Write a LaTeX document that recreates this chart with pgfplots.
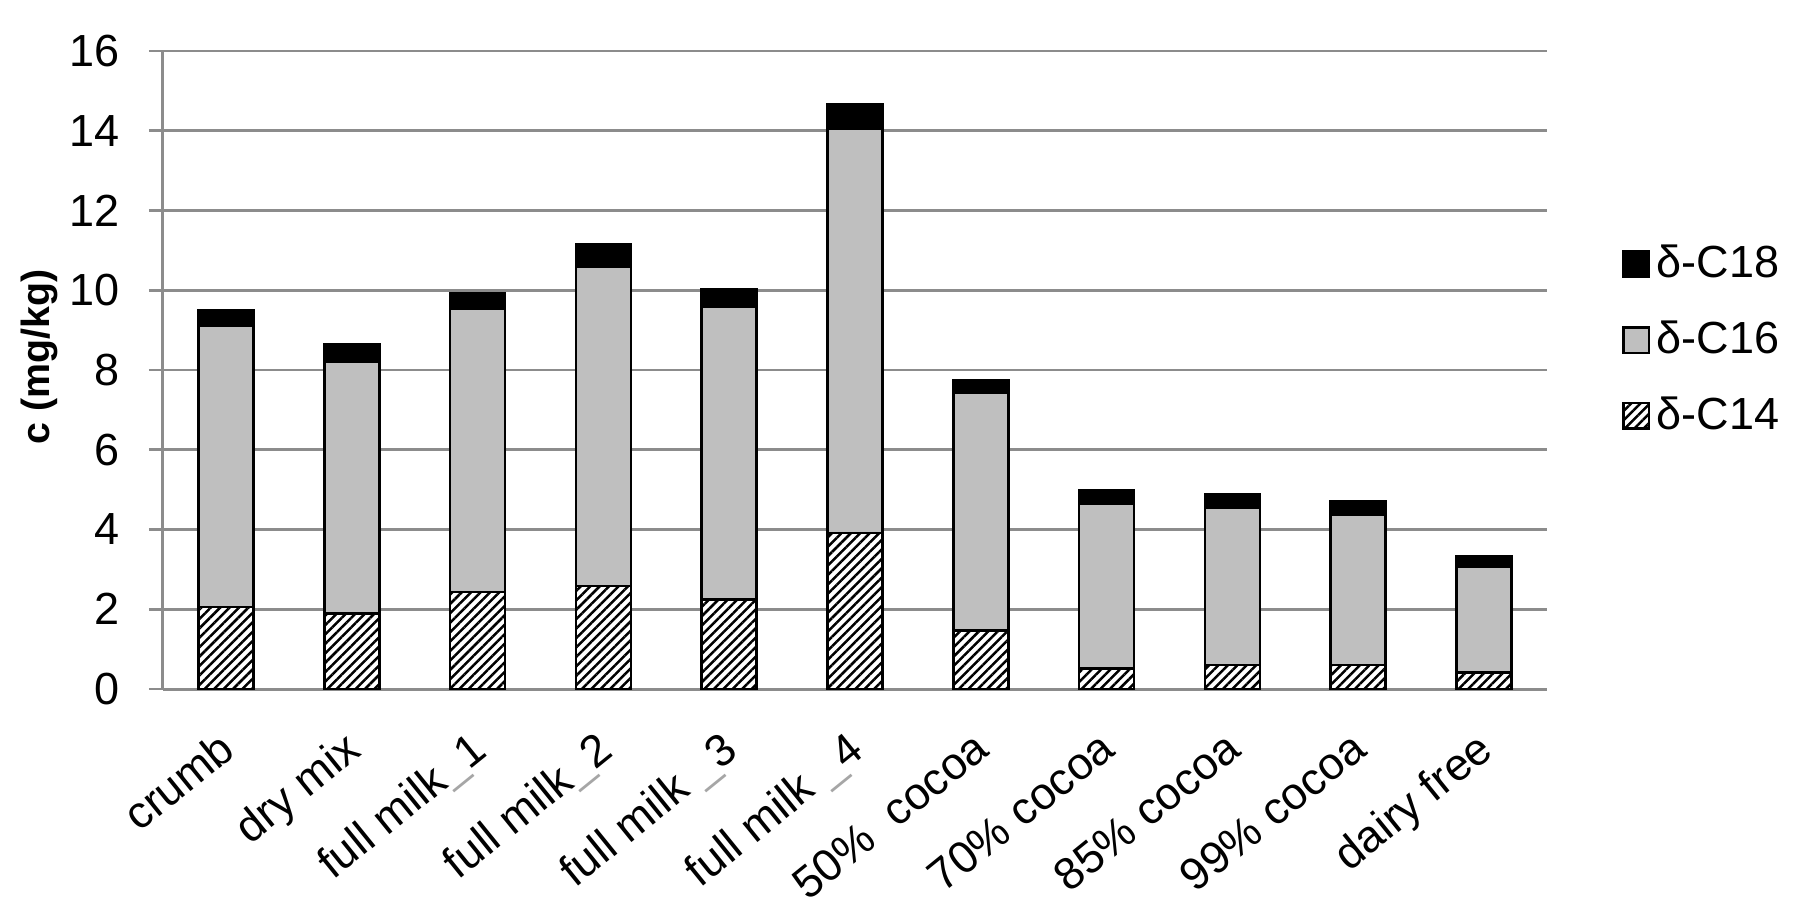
\documentclass[border=0pt]{standalone}
\usepackage{fontspec}
\setmainfont{Liberation Sans}
\usepackage{pgfplots}
\usepackage{pgfplotstable}
\pgfplotsset{compat=1.18}
\usetikzlibrary{patterns.meta}

\pgfplotstableread{
x  c14   c16    c18
0  2.06  7.04   0.40
1  1.89  6.33   0.42
2  2.43  7.10   0.39
3  2.58  8.00   0.57
4  2.24  7.36   0.42
5  3.91  10.15  0.61
6  1.46  5.97   0.32
7  0.51  4.14   0.33
8  0.60  3.96   0.32
9  0.60  3.77   0.34
10 0.41  2.66   0.25
}\datatable

\newcommand{\us}{\textcolor{black!35}{\_}}

\begin{document}
\begin{tikzpicture}
\begin{axis}[
  name=ax,
  scale only axis,
  width=415.2pt, height=191.4pt,
  ybar stacked,
  bar width=16.5pt,
  xmin=-0.5, xmax=10.5,
  ymin=0, ymax=16,
  ytick={0,2,...,16},
  xtick=data,
  xticklabels={crumb, dry mix, full milk\us1, full milk\us2, full milk \us3, full milk \us4, 50\%\ \ cocoa, 70\% cocoa, 85\% cocoa, 99\% cocoa, dairy free},
  axis x line*=bottom,
  axis y line*=left,
  axis line style={draw=black!45, line width=0.9pt},
  ymajorgrids,
  grid style={draw=black!45, line width=0.8pt},
  ytick style={draw=black!45, line width=0.8pt},
  tick align=outside,
  major tick length=4.2pt,
  xtick style={draw=none},
  /pgf/number format/assume math mode=true,
  yticklabel style={font=\fontsize{13.5}{16}\selectfont, anchor=east, inner sep=0pt, xshift=-8.7pt},
  xticklabel style={font=\fontsize{13.5}{16}\selectfont, xshift=-2.8pt, yshift=-7.5pt, rotate=39, anchor=north east, inner sep=0pt},
  ylabel={c (mg/kg)},
  ylabel style={font=\fontsize{11.8}{14}\selectfont\bfseries, at={(axis description cs:-0.0896,0.52)}, anchor=center, rotate=0},
  legend style={draw=none, fill=none, at={(axis description cs:1.054,0.547)}, anchor=west,
    font=\fontsize{13.5}{16}\selectfont, row sep=7.5pt, inner sep=0pt},
  legend cell align=left,
  reverse legend,
  legend image code/.code={\draw[#1, line width=0.7pt] (0pt,-3.8pt) rectangle (7.6pt,3.8pt);},
]
\addplot[draw=black, line width=0.8pt, fill=white, postaction={pattern={Lines[angle=45, distance=2pt, line width=0.75pt]}, pattern color=black}]
  table[x=x, y=c14]{\datatable};
\addlegendentry{δ-C14}
\addplot[draw=black, line width=0.8pt, fill=black!25]
  table[x=x, y=c16]{\datatable};
\addlegendentry{δ-C16}
\addplot[draw=black, line width=0.8pt, fill=black]
  table[x=x, y=c18]{\datatable};
\addlegendentry{δ-C18}
\end{axis}
\pgfresetboundingbox
\path ([shift={(-48.9pt,-69.9pt)}]ax.south west) rectangle ([shift={(494.1pt,206.7pt)}]ax.south west);
\end{tikzpicture}
\end{document}
